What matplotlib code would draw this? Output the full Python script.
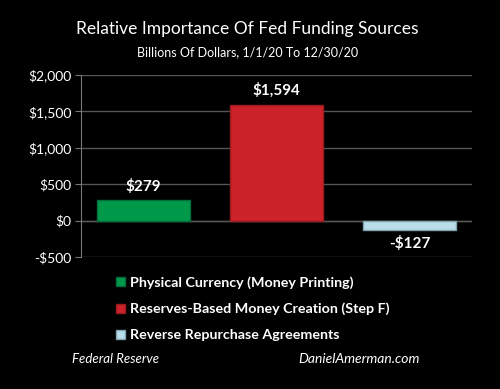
import numpy as np
import matplotlib.pyplot as plt
from matplotlib.patches import Patch

# Fed funding sources, billions of dollars, 1/1/20 to 12/30/20
sources = ["Physical Currency (Money Printing)",
           "Reserves-Based Money Creation (Step F)",
           "Reverse Repurchase Agreements"]
values = [279, 1594, -127]
value_labels = ["$279", "$1,594", "-$127"]
colors = ["#00994a", "#cc2229", "#b9dde9"]
edges = ["#00703a", "#9c1a1f", "#7fa3b0"]

ticks = [-500, 0, 500, 1000, 1500, 2000]
tick_labels = ["-$500", "$0", "$500", "$1,000", "$1,500", "$2,000"]

plt.rcParams['font.family'] = ['Lato', 'DejaVu Sans']

fig = plt.figure(figsize=(5, 3.89), dpi=100, facecolor="black")
ax = fig.add_axes([0.162, 0.3393, 0.782, 0.4679], facecolor="black")

x = np.arange(len(values))
bars = ax.bar(x, values, width=0.7, color=colors, edgecolor=edges, linewidth=1, zorder=3)

for xi, v, lab in zip(x, values, value_labels):
    if v >= 0:
        ax.text(xi, v + 90, lab, ha="center", va="bottom", color="white",
                fontsize=11, fontweight="bold")
    else:
        ax.text(xi, v - 90, lab, ha="center", va="top", color="white",
                fontsize=11, fontweight="bold")

ax.set_xlim(-0.47, 2.47)
ax.set_ylim(-500, 2000)
ax.set_yticks(ticks)
ax.set_yticklabels(tick_labels, color="white", fontsize=10)
ax.set_xticks([])
ax.yaxis.grid(True, color="#555555", linewidth=1)
ax.set_axisbelow(True)
ax.tick_params(axis="y", length=4, color="#777777", pad=3)
for s in ["top", "right", "bottom"]:
    ax.spines[s].set_visible(False)
ax.spines["left"].set_color("#777777")
ax.axhline(0, color="#555555", linewidth=1, zorder=2)

fig.text(0.495, 0.925, "Relative Importance Of Fed Funding Sources",
         ha="center", va="center", color="white", fontsize=12.5)
fig.text(0.495, 0.866, "Billions Of Dollars, 1/1/20 To 12/30/20",
         ha="center", va="center", color="white", fontsize=9)

handles = [Patch(facecolor=c, edgecolor=e) for c, e in zip(colors, edges)]
leg = fig.legend(handles, sources, loc="upper left", bbox_to_anchor=(0.212, 0.316),
                 frameon=False, handlelength=0.65, handleheight=0.65, handletextpad=0.35,
                 labelspacing=0.98, borderpad=0.2, prop={"weight": "bold", "size": 10.3})
for t in leg.get_texts():
    t.set_color("white")

fig.text(0.144, 0.077, "Federal Reserve", color="white", fontsize=9.5,
         style="italic", va="center")
fig.text(0.596, 0.077, "DanielAmerman.com", color="white", fontsize=10,
         style="italic", va="center")

fig.savefig("out.png", dpi=100, facecolor="black")
